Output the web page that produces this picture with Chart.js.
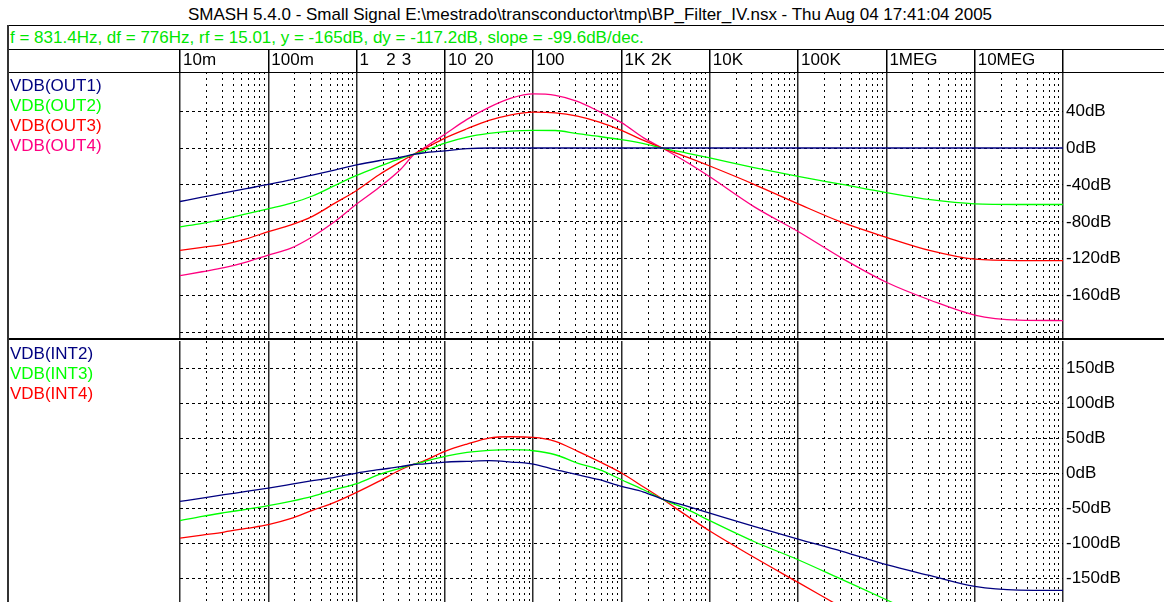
<!DOCTYPE html>
<html lang="pt">
<head>
<meta charset="utf-8">
<title>BP_Filter_IV</title>
<script src="https://cdn.jsdelivr.net/npm/chart.js@4.4.1/dist/chart.umd.min.js"></script>
<style>
    html, body { margin: 0; padding: 0; background: #fff; }
    body { width: 1164px; height: 602px; overflow: hidden; position: relative;
           font-family: 'Liberation Sans', Arial, sans-serif; color: #000; }
    .linea { position: absolute; background: #000; }
    .texto { position: absolute; white-space: nowrap; font-size: 17px; }
    #titulo { left: 7px; width: 1166px; top: 5px; line-height: 20px; text-align: center; }
    #info { left: 10px; top: 27px; line-height: 21px; color: #00e600; }
    .leyenda { left: 10px; line-height: 20px; }
    #cajaOut { position: absolute; left: 7px; top: 50px; }
    #cajaInt { position: absolute; left: 7px; top: 339px; }
</style>
</head>
<body>

<div class="texto" id="titulo">SMASH 5.4.0 - Small Signal E:\mestrado\transconductor\tmp\BP_Filter_IV.nsx - Thu Aug 04 17:41:04 2005</div>
<div class="texto" id="info">f = 831.4Hz, df = 776Hz, rf = 15.01, y = -165dB, dy = -117.2dB, slope = -99.6dB/dec.</div>

<div id="cajaOut"><canvas id="chartOut" width="1157" height="290"></canvas></div>
<div id="cajaInt"><canvas id="chartInt" width="1157" height="275"></canvas></div>

<div class="texto leyenda" style="top:76px">
    <div style="color:#000080">VDB(OUT1)</div>
    <div style="color:#00ff00">VDB(OUT2)</div>
    <div style="color:#ff0000">VDB(OUT3)</div>
    <div style="color:#ff0080">VDB(OUT4)</div>
</div>
<div class="texto leyenda" style="top:344px">
    <div style="color:#000080">VDB(INT2)</div>
    <div style="color:#00ff00">VDB(INT3)</div>
    <div style="color:#ff0000">VDB(INT4)</div>
</div>

<!-- marco -->
<div class="linea" style="left:7px; top:25px; width:1157px; height:1px"></div>
<div class="linea" style="left:7px; top:49px; width:1157px; height:1px"></div>
<div class="linea" style="left:7px; top:72px; width:1157px; height:1px"></div>
<div class="linea" style="left:7px; top:338px; width:1157px; height:2px"></div>
<div class="linea" style="left:7px; top:25px; width:2px; height:577px; background:#333"></div>

<script>
// frecuencias (Hz) comunes a todas las curvas
const frecuencias = [0.01, 0.0178, 0.0316, 0.0562, 0.1, 0.178, 0.316, 0.562, 1, 1.78,
    3.16, 4.4, 5.62, 10, 17.8, 31.6, 56.2, 100, 178, 316,
    562, 1000, 1780, 2900, 5620, 1e4, 3.16e4, 1e5, 3.16e5, 1e6,
    3.16e6, 1e7, 3.16e7, 1e8];

// panel de arriba (dB)
const vdbOut1 = [-58, -53.3, -48.6, -44, -39.5, -34.5, -29.3, -24, -18.3, -13.8,
    -10, -7, -5.4, -3, -0.7, 0, 0, 0, 0, 0,
    0, 0, 0, 0, 0, 0, 0, 0, 0, 0,
    0, 0, 0, 0];
const vdbOut2 = [-85.5, -81.6, -77, -71.5, -65.8, -60, -52, -40.8, -29.7, -20.2,
    -11.2, -7, -3.6, 5.4, 11.9, 15.9, 18.4, 19.2, 19, 15.5,
    12.5, 9, 4.7, 0, -5.7, -10.7, -21.2, -30.8, -39.5, -48.3,
    -56, -60.5, -61.2, -61.2];
const vdbOut3 = [-111, -107.7, -104.5, -98.5, -90.7, -83.5, -74, -60, -46, -29.2,
    -14.8, -7, -1.8, 10.8, 20.9, 29.9, 36, 38.9, 38.2, 34.6,
    28.1, 19.1, 8.3, 0, -10.1, -19.5, -39.3, -60.5, -80.7, -96.8,
    -111.3, -120.5, -122, -122];
const vdbOut4 = [-138.4, -134.1, -129.7, -123.6, -116, -108.8, -96.1, -80, -60.7, -43,
    -23, -7.5, -0.7, 15, 31, 44, 54, 58.6, 57, 50.5,
    39.5, 27.5, 11, 0, -16, -31.2, -63.5, -90.5, -119.6, -145.5,
    -165, -181, -186.5, -187];

// panel de abajo (dB)
const vdbInt2 = [-40.2, -35.5, -30.7, -26, -21.2, -16, -10.7, -5.9, 0.3, 5,
    9.3, 12.5, 13.1, 16, 17, 17.9, 16, 13.1, 5, -2.1,
    -9.3, -18.8, -26.9, -36.9, -47.3, -56.9, -75.9, -94, -111.6, -130.7,
    -146.4, -161.6, -166.9, -167.3];
const vdbInt3 = [-67.8, -61.6, -56.4, -51.6, -46.4, -40.2, -33, -23.5, -15, -2.1,
    7.4, 12.5, 16, 24.1, 29.8, 32.7, 33.6, 32.1, 26.4, 14.6,
    5, -9.3, -23.6, -36.9, -52.1, -67.8, -97.5, -123.6, -152.1, -180.7,
    -210, null, null, null];
const vdbInt4 = [-92.6, -88.3, -84, -78.8, -73.5, -65, -53, -41.6, -27.3, -11.6,
    5, 12.5, 17, 31.3, 41.7, 50.3, 52.1, 51.3, 45.6, 31.5,
    16.5, 0.3, -19.7, -36.9, -61.6, -82.6, -120, -156, -192, -228,
    null, null, null, null];

// eje x
const ticksX = [0.01, 0.1, 1, 2, 3, 10, 20, 100, 1000, 2000, 1e4, 1e5, 1e6, 1e7, 1e8];
const etiquetasX = ['10m', '100m', '1', '2', '3', '10', '20', '100', '1K', '2K', '10K', '100K', '1MEG', '10MEG', ''];

// ejes y
const ticksOut = [-200, -160, -120, -80, -40, 0, 40];
const etiquetasOut = ['', '-160dB', '-120dB', '-80dB', '-40dB', '0dB', '40dB'];
const ticksInt = [-200, -150, -100, -50, 0, 50, 100, 150];
const etiquetasInt = ['', '-150dB', '-100dB', '-50dB', '0dB', '50dB', '100dB', '150dB'];

const colores = { azul: '#000080', verde: '#00ff00', rojo: '#ff0000', rosa: '#ff0080' };

Chart.defaults.font.family = "'Liberation Sans', Arial, sans-serif";
Chart.defaults.color = '#000';

const esDecada = v => Math.abs(Math.log10(v) - Math.round(Math.log10(v))) < 1e-9;

const ticksMenores = [];
for (let e = -2; e < 8; e++) {
    for (let m = 2; m <= 9; m++) ticksMenores.push(m * Math.pow(10, e));
}

// sin relleno extra de las etiquetas, el area del grafico la fijan los margenes
const sinRelleno = scale => {
    scale.paddingTop = 0;
    scale.paddingBottom = 0;
    scale.paddingLeft = 0;
    scale.paddingRight = 0;
};

const serie = (label, valores, color) => ({
    label,
    data: frecuencias.map((f, i) => ({ x: f, y: valores[i] })),
    borderColor: color,
    borderWidth: 1.3,
    pointRadius: 0,
    cubicInterpolationMode: 'monotone',
    fill: false
});

const crearOpciones = (ticksY, etiquetasY, minY, maxY, conEtiquetasX, relleno) => ({
    responsive: false,
    animation: false,
    devicePixelRatio: 1,
    layout: { padding: relleno },
    plugins: { legend: { display: false }, tooltip: { enabled: false } },
    scales: {
        x: {
            type: 'logarithmic',
            position: 'top',
            min: 0.01,
            max: 1e8,
            afterBuildTicks: scale => { scale.ticks = ticksX.map(v => ({ value: v })) },
            afterFit: scale => { scale.height = conEtiquetasX ? 22 : 0; sinRelleno(scale) },
            ticks: {
                display: conEtiquetasX,
                autoSkip: false,
                maxRotation: 0,
                minRotation: 0,
                align: 'start',
                labelOffset: 3,
                padding: -21,
                font: { size: 17 },
                callback: (value, index) => etiquetasX[index]
            },
            grid: {
                color: ctx => esDecada(ctx.tick.value) ? '#2a2a2a' : 'rgba(0,0,0,0)',
                lineWidth: 1.5,
                drawTicks: conEtiquetasX,
                tickLength: 22,
                tickWidth: 1.5,
                tickColor: ctx => esDecada(ctx.tick.value) ? '#000' : 'rgba(0,0,0,0)'
            },
            border: { display: false }
        },
        xMenor: {
            type: 'logarithmic',
            position: 'bottom',
            min: 0.01,
            max: 1e8,
            afterBuildTicks: scale => { scale.ticks = ticksMenores.map(v => ({ value: v })) },
            afterFit: scale => { scale.height = 0; sinRelleno(scale) },
            ticks: { display: false },
            grid: { color: '#000', lineWidth: 1, drawTicks: false, borderDash: [2, 4] },
            border: { display: false, dash: [2, 4] }
        },
        y: {
            type: 'linear',
            position: 'right',
            min: minY,
            max: maxY,
            afterBuildTicks: scale => { scale.ticks = ticksY.map(v => ({ value: v })) },
            afterFit: scale => { scale.width = 101; sinRelleno(scale) },
            ticks: {
                padding: 3,
                font: { size: 17 },
                callback: (value, index) => etiquetasY[index]
            },
            grid: { color: '#000', lineWidth: 1, drawTicks: false, borderDash: [3, 3] },
            border: { display: false, dash: [3, 3] }
        }
    }
});

const chartOut = new Chart(document.getElementById('chartOut').getContext('2d'), {
    type: 'line',
    data: {
        datasets: [
            serie('VDB(OUT1)', vdbOut1, colores.azul),
            serie('VDB(OUT2)', vdbOut2, colores.verde),
            serie('VDB(OUT3)', vdbOut3, colores.rojo),
            serie('VDB(OUT4)', vdbOut4, colores.rosa)
        ]
    },
    options: crearOpciones(ticksOut, etiquetasOut, -207, 82.4, true, { left: 173, right: 0, top: 0, bottom: 1 })
});

const chartInt = new Chart(document.getElementById('chartInt').getContext('2d'), {
    type: 'line',
    data: {
        datasets: [
            serie('VDB(INT2)', vdbInt2, colores.azul),
            serie('VDB(INT3)', vdbInt3, colores.verde),
            serie('VDB(INT4)', vdbInt4, colores.rojo)
        ]
    },
    options: crearOpciones(ticksInt, etiquetasInt, -201.1, 188.9, false, { left: 173, right: 0, top: 2, bottom: 0 })
});
</script>
</body>
</html>
